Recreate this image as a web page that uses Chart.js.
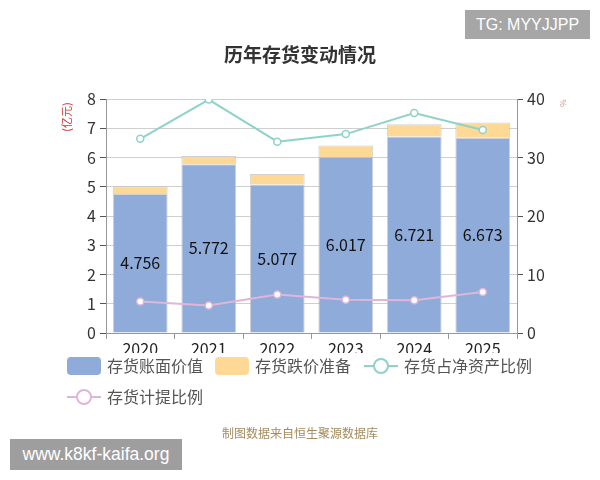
<!DOCTYPE html>
<html><head><meta charset="utf-8">
<script src="https://cdn.jsdelivr.net/npm/chart.js@4.4.1/dist/chart.umd.min.js"></script>
<style>
html,body{margin:0;padding:0;background:#fff;}
#wrap{position:relative;width:600px;height:480px;}
canvas{display:block;}
.wm{position:absolute;background:#a6a6a6;color:#fff;font-family:"Liberation Sans",Arial,sans-serif;}
#wm1{left:465px;top:10px;width:125px;height:29px;line-height:29px;text-align:center;font-size:16px;}
#wm2{left:10px;top:439px;width:172px;height:31px;line-height:31px;text-align:center;font-size:17.5px;background:#9e9e9e;}
</style></head>
<body><div id="wrap"><canvas id="c" width="600" height="480"></canvas>
<div class="wm" id="wm1">TG: MYYJJPP</div>
<div class="wm" id="wm2">www.k8kf-kaifa.org</div></div>
<script>
const categories = ['2020','2021','2022','2023','2024','2025'];
const bookValue = [4.756, 5.772, 5.077, 6.017, 6.721, 6.673];
const impairment = [0.26, 0.28, 0.36, 0.39, 0.42, 0.52];
const netAssetRatio = [33.2, 39.9, 32.7, 34.0, 37.6, 34.7];
const provisionRatio = [5.4, 4.7, 6.6, 5.7, 5.6, 7.0];
const leftTicks = [0,1,2,3,4,5,6,7,8];
const rightTicks = [0,10,20,30,40];

const FONT = '"Noto Sans CJK SC","Noto Sans",sans-serif';
const BLUE = '#8eabda', YELLOW = '#fdd995', TEAL = '#8fd3c8', PINK = '#dfb6d9';

const extras = {
  id:'extras',
  afterDatasetsDraw(chart){
    const ctx = chart.ctx;
    const meta = chart.getDatasetMeta(0);
    ctx.save();
    ctx.font = '16px ' + FONT;
    ctx.fillStyle = '#111';
    ctx.textAlign = 'center'; ctx.textBaseline = 'middle';
    meta.data.forEach((bar,i)=>{
      ctx.fillText(bookValue[i].toFixed(3), bar.x, (bar.y + bar.base)/2);
    });
    ctx.restore();
  },
  afterDraw(chart){
    const ctx = chart.ctx;
    ctx.save();
    ctx.font = 'bold 19px ' + FONT;
    ctx.fillStyle = '#333';
    ctx.textAlign = 'center'; ctx.textBaseline = 'middle';
    ctx.fillText('历年存货变动情况', 300, 55);
    ctx.save();
    ctx.translate(67, 117); ctx.rotate(-Math.PI/2);
    ctx.font = '11px ' + FONT; ctx.fillStyle = '#c83c3c';
    ctx.fillText('(亿元)', 0, 0);
    ctx.restore();
    ctx.save();
    ctx.translate(563, 103); ctx.rotate(-Math.PI/2);
    ctx.font = '8px ' + FONT; ctx.fillStyle = '#c99';
    ctx.fillText('%', 0, 0);
    ctx.restore();
    ctx.font = '12px ' + FONT; ctx.fillStyle = '#a58c5c';
    ctx.fillText('制图数据来自恒生聚源数据库', 300, 433);
    ctx.font = '16px ' + FONT; ctx.fillStyle = '#555';
    ctx.textAlign = 'left';
    function box(x,y,color,label){
      ctx.fillStyle = color;
      ctx.beginPath();
      ctx.roundRect(x, y-9, 34, 18, 4);
      ctx.fill();
      ctx.fillStyle = '#555';
      ctx.fillText(label, x+40, y);
    }
    function line(x,y,color,label){
      ctx.strokeStyle = color; ctx.lineWidth = 2;
      ctx.beginPath(); ctx.moveTo(x,y); ctx.lineTo(x+34,y); ctx.stroke();
      ctx.fillStyle = '#fff';
      ctx.beginPath(); ctx.arc(x+17,y,7,0,Math.PI*2); ctx.fill(); ctx.stroke();
      ctx.fillStyle = '#555';
      ctx.fillText(label, x+40, y);
    }
    box(67,366,BLUE,'存货账面价值');
    box(215,366,YELLOW,'存货跌价准备');
    line(364,366,TEAL,'存货占净资产比例');
    line(67,397,PINK,'存货计提比例');
    ctx.restore();
  }
};

new Chart(document.getElementById('c'), {
  data: {
    labels: categories,
    datasets: [
      {type:'bar', label:'存货账面价值', data:bookValue, backgroundColor:BLUE, borderColor:'rgba(190,190,190,0.7)', borderWidth:1, yAxisID:'y', stack:'s', order:2, categoryPercentage:1, barPercentage:0.8},
      {type:'bar', label:'存货跌价准备', data:impairment, backgroundColor:YELLOW, borderColor:'rgba(190,190,190,0.7)', borderWidth:1, yAxisID:'y', stack:'s', order:2, categoryPercentage:1, barPercentage:0.8},
      {type:'line', label:'存货占净资产比例', data:netAssetRatio, borderColor:TEAL, backgroundColor:'#fff', pointBackgroundColor:'#fff', pointBorderColor:TEAL, pointRadius:3.5, pointBorderWidth:1.5, borderWidth:2, yAxisID:'y1', order:1},
      {type:'line', label:'存货计提比例', data:provisionRatio, borderColor:PINK, backgroundColor:'#fff', pointBackgroundColor:'#fff', pointBorderColor:PINK, pointRadius:3.5, pointBorderWidth:1.5, borderWidth:2, yAxisID:'y1', order:1}
    ]
  },
  options: {
    responsive:false, animation:false,
    layout:{padding:{top:99, bottom:127, left:0, right:0}},
    plugins:{legend:{display:false}, tooltip:{enabled:false}},
    scales:{
      x:{stacked:true, offset:true,
        grid:{display:true, drawOnChartArea:false, color:'#999', tickLength:6, offset:true},
        border:{color:'#999', width:1},
        ticks:{font:{size:16, family:FONT}, color:'#222', padding:0},
        afterFit(s){ s.height = 20; }
      },
      y:{stacked:true, position:'left', min:0, max:8,
        afterBuildTicks(s){ s.ticks = leftTicks.map(v=>({value:v})); },
        grid:{color:'#cfcfcf', tickLength:6, tickColor:'#555'},
        border:{color:'#999', width:1},
        ticks:{font:{size:16, family:FONT}, color:'#333', padding:4},
        afterFit(s){ s.width = 106; }
      },
      y1:{position:'right', min:0, max:40,
        afterBuildTicks(s){ s.ticks = rightTicks.map(v=>({value:v})); },
        grid:{drawOnChartArea:false, tickLength:6, tickColor:'#555'},
        border:{color:'#999', width:1},
        ticks:{font:{size:16, family:FONT}, color:'#333', padding:4},
        afterFit(s){ s.width = 83; }
      }
    }
  },
  plugins:[extras]
});
</script></body></html>
